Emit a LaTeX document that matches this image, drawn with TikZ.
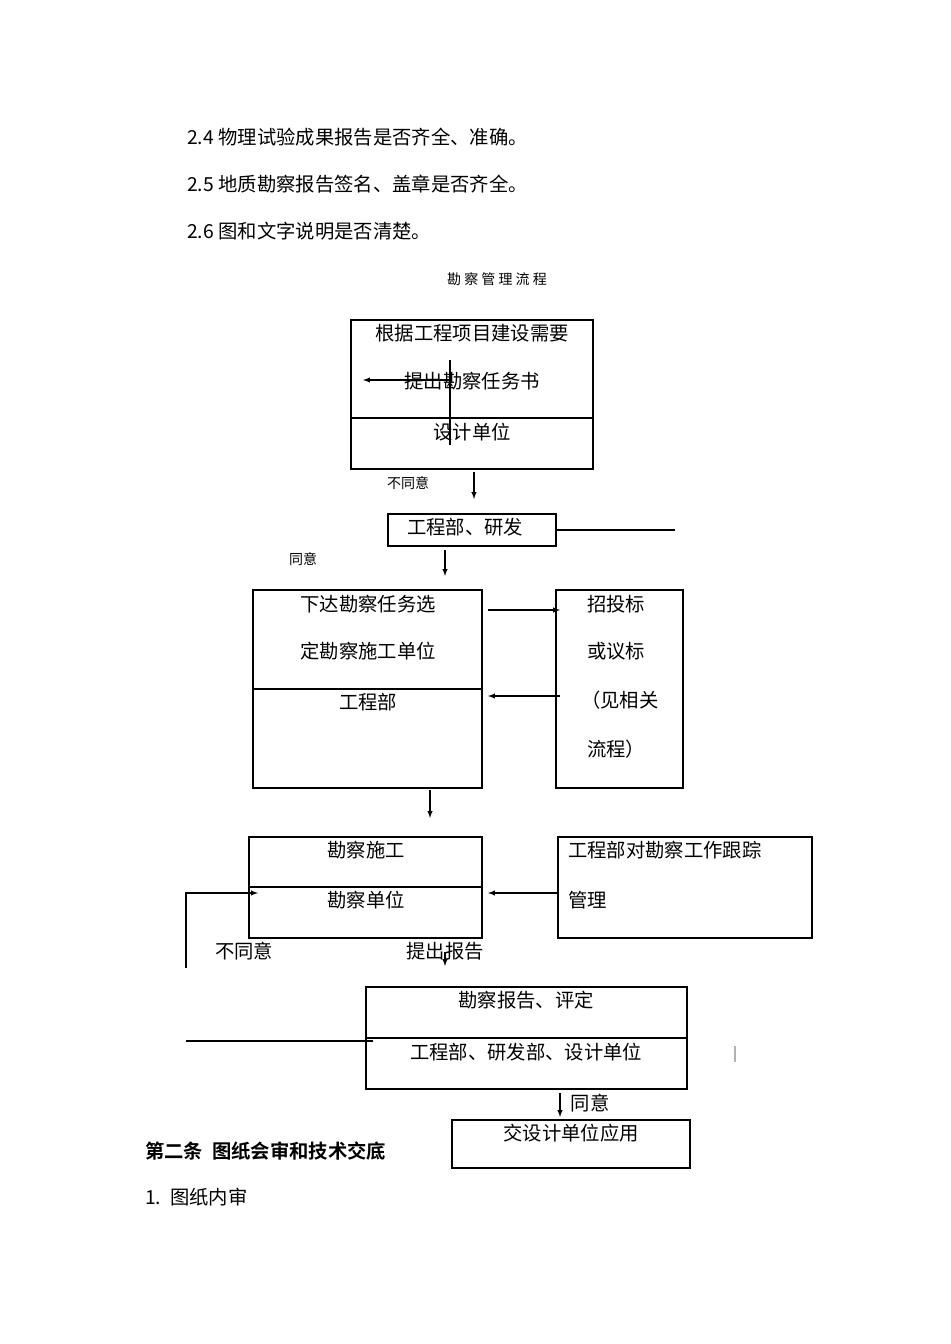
\documentclass[tikz,border=0pt]{standalone}
\usepackage{fontspec}
\setmainfont{Noto Sans CJK SC}
\newfontfamily\cjkb{Noto Sans CJK SC Bold}
\begin{document}
\begin{tikzpicture}[x=0.75pt,y=-0.75pt,
  bx/.style={draw,line width=0.8pt},
  ln/.style={line width=0.8pt},
  ar/.style={line width=0.8pt,-latex},
  t/.style={font=\fontsize{14.5}{16}\selectfont,inner sep=0pt},
  ts/.style={font=\fontsize{10.5}{12}\selectfont,inner sep=0pt}]
\useasboundingbox[fill=white] (0,0) rectangle (950,1344);
\node[t,anchor=west] (l1) at (187,137) {2.4 物理试验成果报告是否齐全、准确。};
\node[t,anchor=west] (l2) at (187,184) {2.5 地质勘察报告签名、盖章是否齐全。};
\node[t,anchor=west] (l3) at (187,231) {2.6 图和文字说明是否清楚。};
\node[ts] (title) at (497,279) {勘 察 管 理 流 程};
% box1
\draw[bx] (351,320) rectangle (593,469); \draw[ln] (351,418) -- (593,418);
\node[t] (b1a) at (472,333) {根据工程项目建设需要};
\node[t] (b1b) at (472,381) {提出勘察任务书};
\node[t] (b1c) at (472,432) {设计单位};
\coordinate (v1) at (450,360); \coordinate (v2) at (450,445);
\draw[ln] (v1) -- (v2);
\coordinate (h1) at (450,380); \coordinate (h2) at (363,380);
\draw[ar] (h1) -- (h2);
\node[ts] (n1) at (408,483) {不同意};
\coordinate (a1) at (474,472); \coordinate (a1e) at (474,499);
\draw[ar] (a1) -- (a1e);
% box2
\draw[bx] (388,514) rectangle (556,546);
\node[t] (b2) at (465,527) {工程部、研发};
\coordinate (r1) at (556,530); \coordinate (r2) at (675,530);
\draw[ln] (r1) -- (r2);
\node[ts] (n2) at (303,559) {同意};
\coordinate (a2) at (445,550); \coordinate (a2e) at (445,576);
\draw[ar] (a2) -- (a2e);
% box3
\draw[bx] (253,590) rectangle (482,788); \draw[ln] (253,689) -- (482,689);
\node[t] (b3a) at (368,604) {下达勘察任务选};
\node[t] (b3b) at (368,651) {定勘察施工单位};
\node[t] (b3c) at (368,702) {工程部};
% box4
\draw[bx] (556,590) rectangle (683,788);
\node[t,anchor=west] (b4a) at (587,604) {招投标};
\node[t,anchor=west] (b4b) at (587,651) {或议标};
\node[t,anchor=west] (b4c) at (581,700) {（见相关};
\node[t,anchor=west] (b4d) at (587,749) {流程）};
\coordinate (p1) at (488,610); \coordinate (p2) at (560,610);
\draw[ar] (p1) -- (p2);
\coordinate (q1) at (560,696); \coordinate (q2) at (488,696);
\draw[ar] (q1) -- (q2);
\coordinate (a3) at (430,790); \coordinate (a3e) at (430,818);
\draw[ar] (a3) -- (a3e);
% box5
\draw[bx] (249,837) rectangle (482,938); \draw[ln] (249,887) -- (482,887);
\node[t] (b5a) at (366,850) {勘察施工};
\node[t] (b5b) at (366,900) {勘察单位};
% box6
\draw[bx] (558,837) rectangle (812,938);
\node[t,anchor=west] (b6a) at (568,850) {工程部对勘察工作跟踪};
\node[t,anchor=west] (b6b) at (568,900) {管理};
\coordinate (s1) at (558,893); \coordinate (s2) at (488,893);
\draw[ar] (s1) -- (s2);
\coordinate (f1) at (186,968); \coordinate (f2) at (186,893); \coordinate (f3) at (258,893);
\draw[ar] (f1) -- (f2) -- (f3);
\node[t] (n3) at (244,951) {不同意};
\node[t] (n4) at (445,951) {提出报告};
\coordinate (a4) at (445,952); \coordinate (a4e) at (445,966);
\draw[ar] (a4) -- (a4e);
% box7
\draw[bx] (366,987) rectangle (687,1089); \draw[ln] (366,1038) -- (687,1038);
\node[t] (b7a) at (526,1000) {勘察报告、评定};
\node[t] (b7b) at (526,1052) {工程部、研发部、设计单位};
\coordinate (g1) at (186,1041); \coordinate (g2) at (373,1041);
\draw[ln] (g1) -- (g2);
\coordinate (m1) at (735,1046); \coordinate (m2) at (735,1062);
\draw[gray!60,line width=1.2pt] (m1) -- (m2);
\coordinate (a5) at (560,1093); \coordinate (a5e) at (560,1117);
\draw[ar] (a5) -- (a5e);
\node[t] (n5) at (590,1103) {同意};
% box8
\draw[bx] (452,1120) rectangle (690,1168);
\node[t] (b8) at (571,1133) {交设计单位应用};
\node[t,anchor=west] (h) at (145,1151) {\cjkb 第二条\ \ 图纸会审和技术交底};
\node[t,anchor=west] (h2) at (145,1197) {1.\ \ 图纸内审};
\end{tikzpicture}
\end{document}
